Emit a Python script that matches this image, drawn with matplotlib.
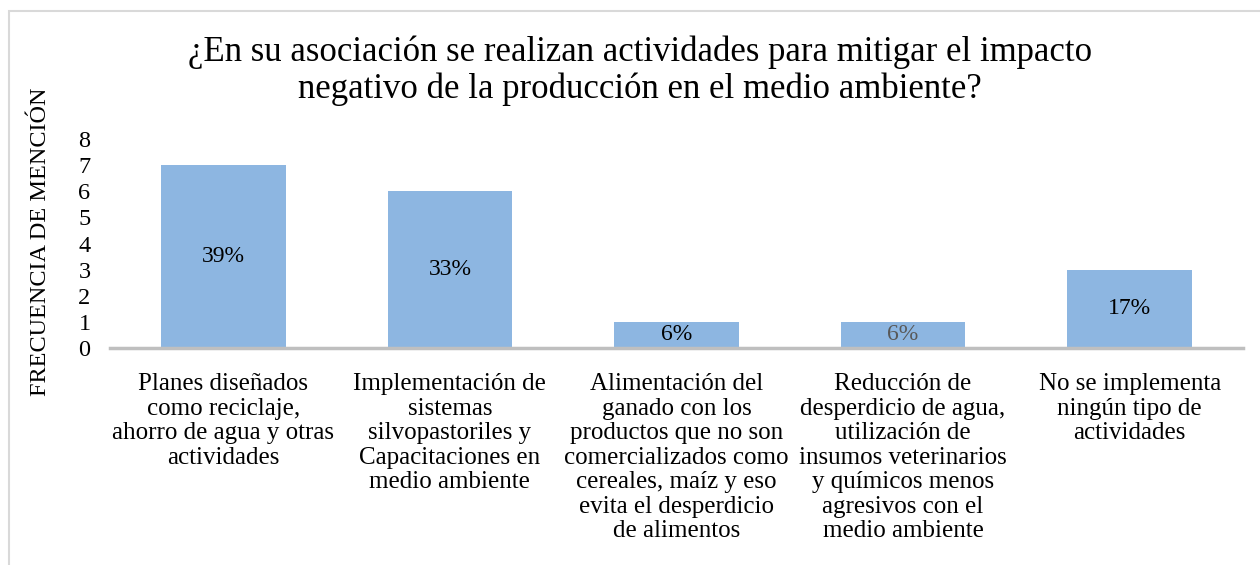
import matplotlib.pyplot as plt
from matplotlib.patches import Rectangle

categorias = [
    "Planes diseñados\ncomo reciclaje,\nahorro de agua y otras\nactividades",
    "Implementación de\nsistemas\nsilvopastoriles y\nCapacitaciones en\nmedio ambiente",
    "Alimentación del\nganado con los\nproductos que no son\ncomercializados como\ncereales, maíz y eso\nevita el desperdicio\nde alimentos",
    "Reducción de\ndesperdicio de agua,\nutilización de\ninsumos veterinarios\ny químicos menos\nagresivos con el\nmedio ambiente",
    "No se implementa\nningún tipo de\nactividades",
]
frecuencia = [7, 6, 1, 1, 3]
porcentajes = ["39%", "33%", "6%", "6%", "17%"]
color_etiqueta = ["#000000", "#000000", "#000000", "#595959", "#000000"]

plt.rcParams['font.family'] = ['Liberation Serif', 'DejaVu Serif']

fig = plt.figure(figsize=(12.6, 5.65), dpi=100)
ax = fig.add_axes([110 / 1260, 1 - 348 / 565, (1243 - 110) / 1260, (348 - 139) / 565])

# marco del gráfico
fig.patches.append(Rectangle((9 / 1260, -0.1), 1.2, 1 - 11 / 565 + 0.1,
                             transform=fig.transFigure, fill=False,
                             edgecolor="#D9D9D9", linewidth=1.5))

x = range(len(categorias))
bars = ax.bar(x, frecuencia, width=0.55, color="#8DB6E1")
for b, txt, c in zip(bars, porcentajes, color_etiqueta):
    ax.text(b.get_x() + b.get_width() / 2, b.get_height() / 2, txt,
            ha="center", va="center", fontsize=17, color=c)

ax.set_xlim(-0.5, len(categorias) - 0.5)
ax.set_ylim(0, 8)
ax.set_yticks(range(0, 9))
ax.set_xticks(list(x))
ax.set_xticklabels(categorias, fontsize=18, linespacing=1.15)
ax.tick_params(axis="x", length=0, pad=18)
ax.tick_params(axis="y", length=0, pad=14, labelsize=17.5)
for s in ["top", "right", "left"]:
    ax.spines[s].set_visible(False)
ax.spines["bottom"].set_color("#BFBFBF")
ax.spines["bottom"].set_linewidth(2.5)

fig.text(41 / 1260, 1 - 242 / 565, "FRECUENCIA DE MENCIÓN", rotation=90,
         ha="center", va="center", fontsize=17.5)
fig.text(640 / 1260, 1 - 71 / 565,
         "¿En su asociación se realizan actividades para mitigar el impacto\nnegativo de la producción en el medio ambiente?",
         ha="center", va="center", fontsize=25, linespacing=1.15)

fig.savefig("out.png", dpi=100)
